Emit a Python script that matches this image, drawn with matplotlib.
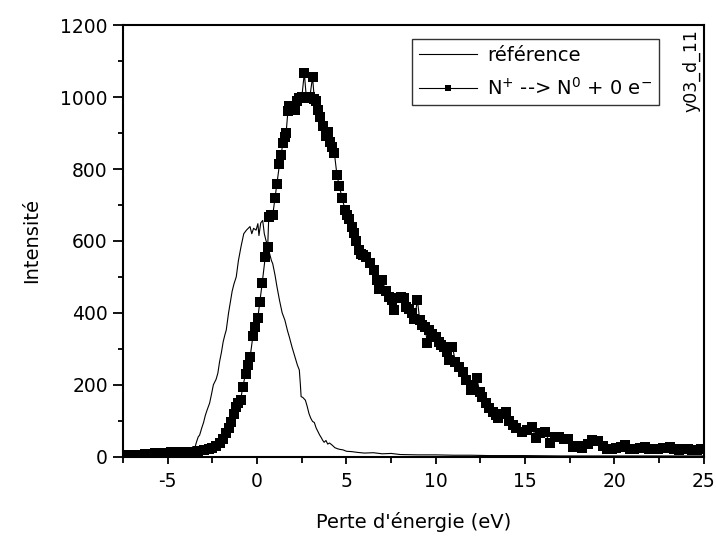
import matplotlib
matplotlib.use('Agg')
import matplotlib.pyplot as plt
from matplotlib.ticker import MultipleLocator

plt.rcParams['font.family'] = ['DejaVu Sans']
plt.rcParams['mathtext.default'] = 'regular'
plt.rcParams['axes.unicode_minus'] = False

# courbe de référence (trait fin)
ref_x = [-7.5, -7.0, -6.5, -6.0, -5.5, -5.0, -4.5, -4.0, -3.8, -3.6, -3.5, -3.4, -3.3, -3.22,
         -3.1, -3.0, -2.9, -2.8, -2.66, -2.55, -2.45, -2.3, -2.2, -2.1, -2.0, -1.9, -1.8, -1.73,
         -1.6, -1.5, -1.4, -1.3, -1.17, -1.05, -0.9, -0.75, -0.6, -0.52, -0.4, -0.3, -0.2, -0.06,
         0.04, 0.1, 0.2, 0.31, 0.4, 0.5, 0.6, 0.69, 0.8, 0.87, 1.0, 1.1, 1.25, 1.4, 1.55, 1.7,
         1.8, 1.95, 2.1, 2.25, 2.36, 2.42, 2.46, 2.55, 2.7, 2.8, 2.9, 3.0, 3.1, 3.2, 3.3, 3.4,
         3.5, 3.6, 3.66, 3.75, 3.85, 3.95, 4.05, 4.2, 4.35, 4.5, 4.65, 4.8, 5.0, 5.3, 5.6, 6.0,
         6.5, 7.0, 7.5, 8.0, 9.0, 10.0, 11.0, 12.0, 13.0, 14.0, 15.0, 17.0, 20.0, 25.0]
ref_y = [3, 4, 5, 6, 7, 8, 9, 10, 12, 28, 22, 40, 55, 60,
         80, 95, 115, 130, 149, 175, 200, 215, 232, 265, 290, 320, 340, 352,
         400, 430, 460, 480, 500, 545, 585, 620, 630, 634, 640, 620, 635, 630,
         648, 615, 650, 657, 620, 600, 590, 566, 545, 537, 505, 475, 435, 400, 380, 350,
         333, 305, 280, 255, 241, 200, 167, 165, 157, 140, 120, 107, 98, 95, 80, 70,
         60, 52, 46, 40, 45, 35, 38, 32, 25, 22, 20, 19, 15, 14, 12, 10,
         11, 8, 9, 6, 5, 5, 4, 4, 3, 3, 3, 2, 2, 2]

# N+ --> N0 + 0 e- (carrés)
n_x = [-7.5, -7.2, -6.9, -6.6, -6.3, -6.0, -5.7, -5.4, -5.1, -4.8, -4.5, -4.2, -3.9, -3.6,
       -3.3, -3.0, -2.7, -2.5, -2.3, -2.1, -1.9, -1.73, -1.58, -1.45, -1.3, -1.17, -1.05,
       -0.93, -0.8, -0.65, -0.5, -0.39, -0.24, -0.1, 0.04, 0.15, 0.28, 0.45, 0.59, 0.65,
       0.78, 0.87, 1.0, 1.1, 1.25, 1.35, 1.43, 1.55, 1.62, 1.72, 1.8, 1.95, 2.14, 2.25,
       2.36, 2.5, 2.64, 2.75, 2.83, 2.95, 3.1, 3.2, 3.3, 3.42, 3.54, 3.7, 3.85, 3.95, 4.1,
       4.2, 4.32, 4.47, 4.6, 4.75, 4.93, 5.05, 5.16, 5.3, 5.44, 5.56, 5.68, 5.8, 5.95, 6.1,
       6.3, 6.55, 6.7, 6.83, 7.0, 7.2, 7.4, 7.55, 7.67, 7.85, 8.04, 8.2, 8.35, 8.5, 8.65,
       8.8, 8.97, 9.1, 9.25, 9.4, 9.53, 9.6, 9.8, 10.0, 10.15, 10.3, 10.46, 10.6, 10.74,
       10.93, 11.1, 11.3, 11.5, 11.7, 11.96, 12.1, 12.3, 12.45, 12.6, 12.8, 13.0, 13.2,
       13.35, 13.5, 13.7, 13.9, 14.1, 14.3, 14.5, 14.84, 15.1, 15.4, 15.6, 15.85, 16.1,
       16.4, 16.65, 16.9, 17.15, 17.4, 17.7, 17.95, 18.2, 18.5, 18.75, 19.1, 19.35, 19.6,
       19.85, 20.1, 20.35, 20.6, 20.85, 21.1, 21.4, 21.7, 21.95, 22.2, 22.45, 22.7, 22.9,
       23.1, 23.35, 23.6, 23.85, 24.1, 24.35, 24.6, 24.85]
n_y = [4, 5, 5, 6, 7, 8, 9, 10, 11, 12, 13, 14, 14, 13,
       15, 18, 22, 25, 30, 37, 50, 65, 80, 97, 120, 139, 150,
       157, 195, 230, 255, 278, 335, 360, 387, 430, 482, 554, 583, 667,
       672, 671, 720, 757, 813, 840, 872, 890, 900, 960, 974, 968, 963, 990,
       998, 1000, 1067, 1000, 998, 1000, 1056, 995, 989, 965, 946, 920, 893, 903, 875,
       860, 845, 782, 752, 720, 685, 672, 662, 640, 622, 600, 574, 565, 560, 556,
       540, 519, 490, 465, 491, 460, 444, 435, 409, 440, 444, 440, 415, 412, 400,
       384, 435, 380, 366, 360, 315, 352, 340, 332, 320, 310, 304, 290, 269,
       306, 262, 250, 235, 213, 185, 200, 218, 180, 167, 150, 134, 125,
       115, 107, 118, 125, 100, 88, 80, 69, 75, 83, 51, 65, 69,
       37, 55, 56, 50, 50, 28, 30, 24, 35, 46, 43, 30, 22,
       20, 25, 28, 32, 22, 20, 25, 27, 22, 21, 20, 24, 25,
       27, 20, 18, 20, 22, 18, 18, 20]

fig = plt.figure(figsize=(7.16, 5.36), dpi=100)
ax = fig.add_axes([0.172, 0.148, 0.811, 0.805])

ax.plot(ref_x, ref_y, color='black', lw=0.8, label='référence')
ax.plot(n_x, n_y, color='black', lw=0.8, marker='s', markersize=7.5,
        markeredgewidth=0, label='N$^{+}$ --> N$^{0}$ + 0 e$^{-}$')

ax.set_xlim(-7.5, 25)
ax.set_ylim(0, 1200)
ax.xaxis.set_major_locator(MultipleLocator(5))
ax.xaxis.set_minor_locator(MultipleLocator(2.5))
ax.yaxis.set_major_locator(MultipleLocator(200))
ax.yaxis.set_minor_locator(MultipleLocator(100))
ax.tick_params(which='both', direction='out', width=1.3, labelsize=13.5, top=False, right=False)
ax.tick_params(axis='y', which='major', length=7, pad=4)
ax.tick_params(axis='y', which='minor', length=3.5)
ax.tick_params(axis='x', which='major', length=5, pad=6)
ax.tick_params(axis='x', which='minor', length=4)
for s in ax.spines.values():
    s.set_linewidth(1.5)

ax.set_xlabel("Perte d'énergie (eV)", fontsize=14, labelpad=15)
ax.set_ylabel('Intensité', fontsize=14, labelpad=14)

leg = ax.legend(loc='upper right', bbox_to_anchor=(0.9225, 0.9676), fontsize=14,
                frameon=True, fancybox=False, edgecolor='black', handlelength=3.0,
                handletextpad=0.5, borderpad=0.35, labelspacing=0.6, markerscale=0.55,
                borderaxespad=0)
leg.get_frame().set_linewidth(1.0)

ax.text(0.995, 0.99, 'y03_d_11', transform=ax.transAxes, rotation=90,
        ha='right', va='top', fontsize=12.5)

fig.savefig('out.png', dpi=100)
